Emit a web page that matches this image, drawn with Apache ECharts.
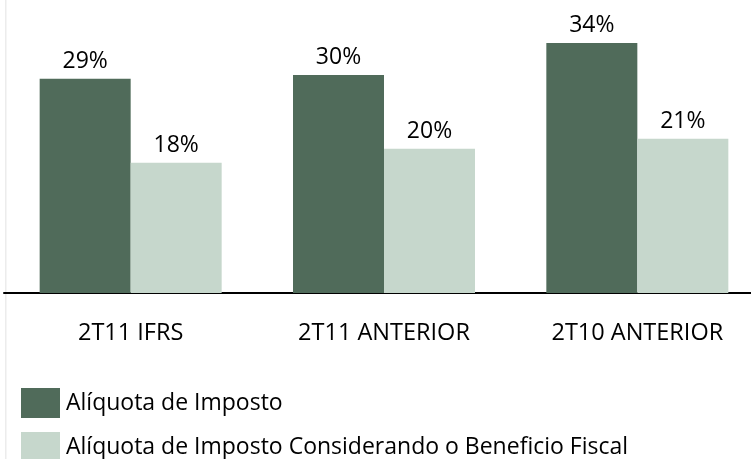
<!DOCTYPE html>
<html>
<head>
<meta charset="utf-8">
<script src="https://cdn.jsdelivr.net/npm/echarts@6/dist/echarts.min.js"></script>
<style>
html,body{margin:0;padding:0;background:#fff;}
#chart{width:751px;height:459px;}
</style>
</head>
<body>
<div id="chart"></div>
<script>
const categories = ['2T11 IFRS', '2T11 ANTERIOR', '2T10 ANTERIOR'];
const seriesNames = ['Alíquota de Imposto', 'Alíquota de Imposto Considerando o Beneficio Fiscal'];
const aliquota = [29.36, 29.86, 34.25];
const aliquotaBeneficio = [17.85, 19.77, 21.14];

const FONT = '"Open Sans", sans-serif';
const legendText = { fontFamily: FONT, fontSize: 23, color: '#000', padding: [0, 0, 0, 1] };
const chart = echarts.init(document.getElementById('chart'));
chart.setOption({
  animation: false,
  backgroundColor: '#fff',
  graphic: [{
    type: 'rect', left: 5, top: 0,
    shape: { width: 1.5, height: 459 },
    style: { fill: '#ececec' }, silent: true
  }],
  grid: { left: 4, width: 760, top: 1, bottom: 166, outerBoundsMode: 'none', containLabel: false },
  legend: [
    { left: 16, top: 383, itemWidth: 39, itemHeight: 30, icon: 'rect',
      textStyle: legendText, data: [seriesNames[0]] },
    { left: 16, top: 427, itemWidth: 39, itemHeight: 30, icon: 'rect',
      textStyle: legendText, data: [seriesNames[1]] }
  ],
  xAxis: {
    type: 'category', data: categories,
    axisLine: { lineStyle: { color: '#000', width: 2 } },
    axisTick: { show: false },
    axisLabel: { fontFamily: FONT, fontSize: 23.5, color: '#000', margin: 28 }
  },
  yAxis: {
    type: 'value', min: 0, max: 40, show: false,
    splitLine: { show: false }
  },
  series: [
    {
      name: seriesNames[0], type: 'bar', data: aliquota,
      barWidth: 91, barGap: '0%',
      itemStyle: { color: '#506B5A' },
      label: { show: true, position: 'top', distance: 6, fontFamily: FONT, fontSize: 23, color: '#000',
        formatter: p => Math.round(p.value) + '%' }
    },
    {
      name: seriesNames[1], type: 'bar', data: aliquotaBeneficio,
      barWidth: 91, barGap: '0%',
      itemStyle: { color: '#C6D7CC' },
      label: { show: true, position: 'top', distance: 6, fontFamily: FONT, fontSize: 23, color: '#000',
        formatter: p => Math.round(p.value) + '%' }
    }
  ]
});
</script>
</body>
</html>
